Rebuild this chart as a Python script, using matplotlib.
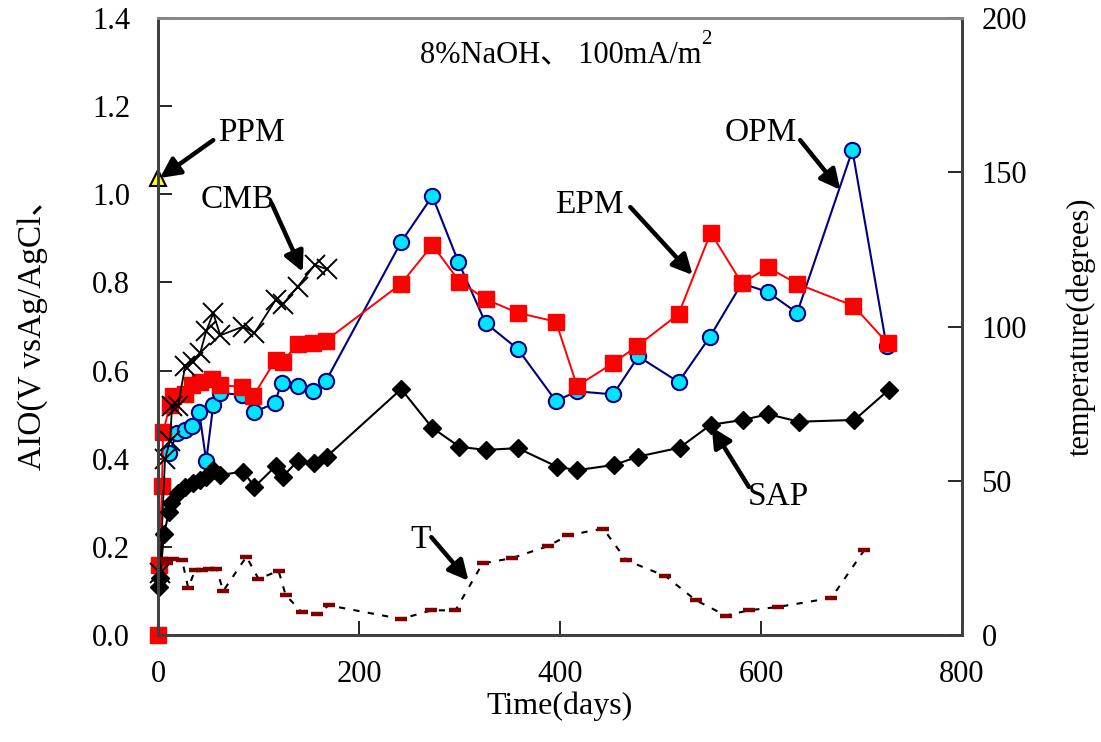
import matplotlib
matplotlib.use("Agg")
import matplotlib.pyplot as plt

plt.rcParams['font.family'] = ['Liberation Serif', 'Noto Sans CJK SC', 'DejaVu Sans']

# OPM (cyan circles)
opm_days = [11, 19, 27, 34, 41, 48, 55, 62, 84, 96, 116, 123, 139, 154, 167,
            242, 273, 299, 326, 358, 396, 417, 453, 478, 518, 549, 581, 607, 636, 691, 725]
opm_val = [0.413, 0.458, 0.465, 0.474, 0.506, 0.395, 0.522, 0.549, 0.545, 0.506, 0.526,
           0.572, 0.565, 0.554, 0.576, 0.892, 0.996, 0.846, 0.708, 0.649, 0.531, 0.553,
           0.546, 0.632, 0.574, 0.676, 0.798, 0.778, 0.731, 1.10, 0.655]

# EPM (red squares)
epm_days = [0, 1, 4, 5, 12, 15, 27, 34, 42, 54, 62, 84, 95, 117, 124, 139, 154, 167,
            242, 273, 300, 326, 358, 396, 417, 453, 477, 518, 550, 581, 607, 636, 692, 726]
epm_val = [0.0, 0.159, 0.337, 0.46, 0.522, 0.543, 0.547, 0.567, 0.574, 0.581, 0.567,
           0.563, 0.543, 0.624, 0.620, 0.660, 0.663, 0.668, 0.797, 0.885, 0.802, 0.762,
           0.731, 0.711, 0.565, 0.617, 0.656, 0.728, 0.913, 0.798, 0.834, 0.797, 0.747, 0.662]

# SAP (black diamonds)
sap_days = [1, 2, 6, 11, 13, 20, 27, 35, 42, 48, 55, 62, 85, 96, 117, 124, 139, 155, 168,
            242, 273, 300, 326, 358, 397, 417, 454, 478, 519, 550, 582, 607, 638, 693, 727]
sap_val = [0.11, 0.13, 0.23, 0.28, 0.30, 0.322, 0.335, 0.345, 0.352, 0.359, 0.374, 0.363,
           0.371, 0.336, 0.383, 0.359, 0.395, 0.390, 0.405, 0.558, 0.470, 0.427, 0.420,
           0.424, 0.382, 0.374, 0.386, 0.405, 0.425, 0.477, 0.488, 0.501, 0.484, 0.488, 0.556]

# CMB (x markers)
cmb_days = [2, 7, 12, 14, 20, 27, 35, 42, 48, 55, 62, 85, 96, 117, 124, 139, 156, 168]
cmb_val = [0.14, 0.40, 0.44, 0.52, 0.52, 0.61, 0.62, 0.64, 0.69, 0.73, 0.68, 0.70,
           0.685, 0.76, 0.75, 0.79, 0.84, 0.83]

# PPM (yellow triangle, second point off the top)
ppm_days = [0, 1]
ppm_val = [1.037, 1.9]

# temperature (right axis)
t_days = [4, 9, 15, 24, 30, 37, 44, 51, 58, 65, 88, 100, 120, 127, 143, 158, 170,
          242, 272, 296, 323, 352, 388, 408, 443, 466, 505, 535, 565, 588, 617, 670, 703]
t_val = [24.5, 23.4, 24.7, 24.3, 15.3, 21, 21, 21.5, 21.5, 14.3, 25.4, 18.2, 20.8, 13,
         7.4, 6.8, 9.6, 5.2, 8.0, 8.0, 23.2, 24.9, 28.8, 32.3, 34.5, 24.2, 19.1, 11.3,
         6.3, 8.0, 9.1, 12.0, 27.6]

fig = plt.figure(figsize=(11.01, 7.42), dpi=100)
ax = fig.add_axes([0.1435, 0.1442, 0.7302, 0.8315])

ax.plot(opm_days, opm_val, color='#000080', lw=1.5, marker='o', ms=11,
        mfc='#00e5ff', mec='#000080', mew=1.5)
ax.plot(epm_days, epm_val, color='red', lw=1.4, marker='s', ms=11, mfc='red', mec='red',
        clip_on=False)
ax.plot(sap_days, sap_val, color='black', lw=1.5, marker='D', ms=9, mfc='black', mec='black',
        clip_on=False)
ax.plot(cmb_days, cmb_val, color='black', lw=1.3, marker='x', ms=14, mew=1.4, clip_on=False)
ax.plot(ppm_days, ppm_val, color='black', lw=2.2)
ax.plot(ppm_days[:1], ppm_val[:1], ls='none', marker='^', ms=12, mfc='yellow', mec='black',
        mew=1.5, clip_on=False)

ax.set_xlim(0, 800)
ax.set_ylim(0, 1.4)
ax.set_xticks([0, 200, 400, 600, 800])
ax.set_yticks([0.0, 0.2, 0.4, 0.6, 0.8, 1.0, 1.2, 1.4])
ax.set_yticklabels(['%.1f' % v for v in ax.get_yticks()])
ax.tick_params(direction='in', length=10, width=1.2, labelsize=22, pad=20)
ax.tick_params(axis='x', pad=18)
ax.set_xlabel('Time(days)', fontsize=23, labelpad=2)
ax.set_ylabel('AIO(V vsAg/AgCl、', fontsize=24, labelpad=32)

ax2 = ax.twinx()
ax2.plot(t_days, t_val, color='black', lw=1.5, ls=(0, (3, 4)))
ax2.plot(t_days, t_val, ls='none', marker='_', ms=8, mew=3.2, color='#800000')
ax2.set_ylim(0, 200)
ax2.set_yticks([0, 50, 100, 150, 200])
ax2.tick_params(direction='in', length=10, width=1.2, labelsize=22, pad=14)
ax2.set_ylabel('temperature(degrees)', fontsize=22, labelpad=28)

for a in (ax, ax2):
    for s in a.spines.values():
        s.set_color('#404040')
        s.set_linewidth(2)
    a.spines['top'].set_color('#888888')

title = ax.text(0.326, 0.94, '8%NaOH、 100mA/m', transform=ax.transAxes, fontsize=22,
                ha='left', va='center')
ax.annotate('2', xy=(1, 0.72), xycoords=title, fontsize=15, ha='left', va='bottom')

arrow = dict(arrowstyle='-|>', lw=3.2, color='black', mutation_scale=30, shrinkA=0, shrinkB=0)
labels = [
    ('PPM', (60, 1.139), (55, 1.123), (2, 1.037)),
    ('CMB', (42, 0.987), (113, 0.980), (144, 0.824)),
    ('EPM', (395, 0.976), (470, 0.971), (532, 0.817)),
    ('OPM', (564, 1.139), (639, 1.123), (679, 1.010)),
    ('SAP', (587, 0.313), (588, 0.336), (551, 0.472)),
    ('T', (251, 0.216), (272, 0.222), (309, 0.123)),
]
for name, pos, tail, head in labels:
    ax.text(pos[0], pos[1], name, fontsize=24, ha='left', va='center')
    ax.annotate('', xy=head, xytext=tail, arrowprops=arrow)

fig.savefig('out.png', dpi=100)
